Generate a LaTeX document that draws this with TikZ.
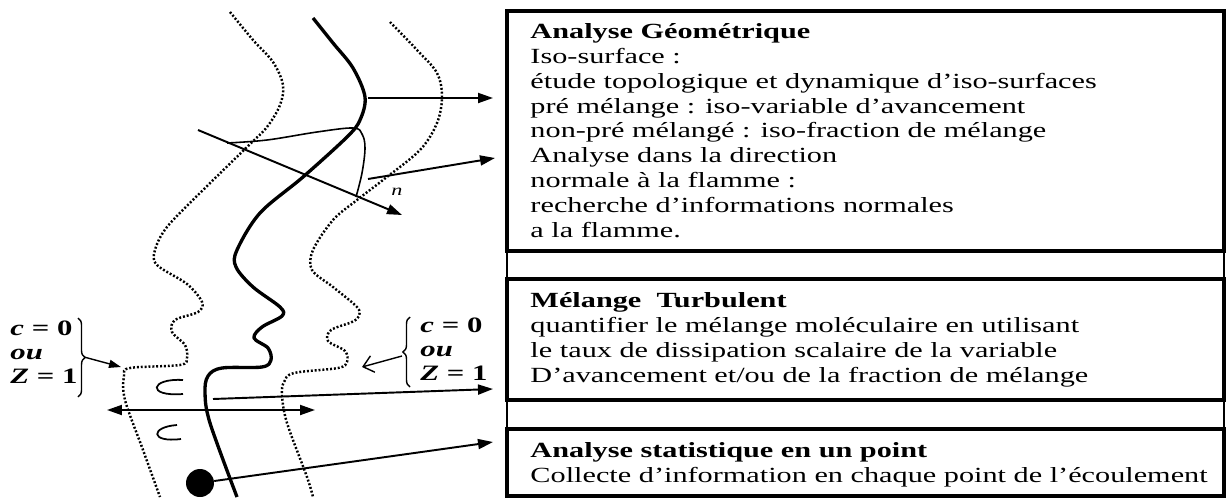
\documentclass[tikz,border=0pt]{standalone}
\usepackage{fontspec}
\setmainfont{Liberation Serif}
\usetikzlibrary{arrows.meta,positioning,decorations.pathreplacing}

\begin{document}
\begin{tikzpicture}[
  x=0.02cm, y=-0.02cm,
  >={Triangle[length=3mm,width=2mm]},
  every node/.style={font=\fontsize{12.3}{14.1}\selectfont},
  panel/.style={draw, line width=2.4pt, minimum width=14.34cm,
                inner sep=0pt, outer sep=0pt},
  gap/.style={draw, line width=0.8pt, minimum width=14.34cm,
              inner sep=0pt, outer sep=0pt},
  txt/.style={anchor=base west, inner sep=0pt, align=left, xscale=1.4},
  cond/.style={txt, font=\fontsize{12.5}{13.6}\selectfont\bfseries},
  flame/.style={line width=1.9pt, line join=round},
  iso/.style={line width=1.4pt, dash pattern=on 1.1pt off 1.1pt},
  link/.style={->, line width=1.1pt},
  brace/.style={decorate, decoration={brace, amplitude=4pt}, line width=0.8pt},
]
\useasboundingbox (0,0) rectangle (1227,497);

% boxes on the right
\node[panel, minimum height=4.8cm, anchor=north west] (geo) at (507,11) {};
\node[gap, minimum height=0.56cm, below=0pt of geo] (gap1) {};
\node[panel, minimum height=2.42cm, below=0pt of gap1] (mix) {};
\node[gap, minimum height=0.58cm, below=0pt of mix] (gap2) {};
\node[panel, minimum height=1.34cm, below=0pt of gap2] (stat) {};

% base = last line of each text
\node[txt] (geotxt) at (530,237) {\textbf{Analyse Géométrique}\\
  Iso-surface :\\
  étude topologique et dynamique d’iso-surfaces\\
  pré mélange : iso-variable d’avancement\\
  non-pré mélangé : iso-fraction de mélange\\
  Analyse dans la direction\\
  normale à la flamme :\\
  recherche d’informations normales\\
  a la flamme.};
\node[txt] (mixtxt) at (530,382) {\textbf{Mélange\ \ Turbulent}\\
  quantifier le mélange moléculaire en utilisant\\
  le taux de dissipation scalaire de la variable\\
  D’avancement et/ou de la fraction de mélange};
\node[txt] (stattxt) at (530,482) {\textbf{Analyse statistique en un point}\\
  Collecte d’information en chaque point de l’écoulement};

% iso-lines and flame front
\draw[iso] plot[smooth, tension=0.55] coordinates {(230,12) (253,40) (273,62)
  (283,85) (280,105) (267,127) (247,147) (200,193) (167,227) (155,250) (157,265)
  (187,284) (202,302) (198,312) (175,320) (172,332) (185,345) (187,358) (180,365)
  (130,368) (124,376) (125,400) (143,450) (160,497)};
\draw[flame] plot[smooth, tension=0.55] coordinates {(313,18) (333,43) (353,68)
  (365,97) (360,120) (347,137) (303,177) (260,213) (237,250) (236,267) (253,287)
  (280,307) (282,316) (262,327) (254,338) (268,348) (271,360) (262,367) (222,368)
  (208,376) (205,393) (210,423) (237,497)};
\draw[iso] plot[smooth, tension=0.55] coordinates {(390,22) (417,50) (437,73)
  (442,97) (437,123) (420,150) (383,180) (357,200) (333,220) (313,250) (312,270)
  (333,287) (357,307) (359,316) (352,322) (331,330) (328,341) (345,351) (347,362)
  (338,368) (294,373) (284,382) (282,395) (287,423) (307,477) (313,497)};
\draw[line width=0.9pt] plot[smooth, tension=0.6] coordinates {(227,143) (267,140)
  (317,132) (353,128) (362,134) (365,148) (362,173) (356,197)};

% eddies
\draw[line width=1pt] (183,380) .. controls (150,378) and (146,397) .. (183,394);
\draw[line width=1pt] (177,425) .. controls (150,427) and (150,443) .. (181,439);

\coordinate (tip) at (368,98);
\coordinate (side) at (368,179);
\coordinate (nfrom) at (198,130);
\coordinate (nto) at (402,215);
\coordinate (lft) at (107,410);
\coordinate (rgt) at (315,410);
\coordinate (front) at (213,399);
\coordinate (e1) at (493,98);
\coordinate (e2) at (495,158);
\coordinate (e3) at (493,389);
\coordinate (e4) at (493,442);
\node[circle, fill, inner sep=0pt, minimum size=0.56cm] (pt) at (200,483) {};

\draw[link] (tip) -- (e1);
\draw[link] (side) -- (e2);
\draw[link] (nfrom) -- (nto);
\node[font=\fontsize{9}{10}\selectfont\itshape, xscale=1.4] (nlab) at (397,192) {n};
\draw[link, <->] (lft) -- (rgt);
\draw[link] (front) -- (e3);
\draw[link] (pt) -- (e4);

% boundary conditions
\node[cond] (condl) at (10,383) {\textit{c} = 0\\ \textit{ou}\\ \textit{Z} = 1};
\draw[brace] (78,318) -- (78,397);
\coordinate (bl) at (84,357);
\coordinate (isol) at (121,367);
\draw[->, line width=0.8pt, >={Triangle[length=2.4mm,width=1.6mm]}] (bl) -- (isol);

\node[cond] (condr) at (420,380) {\textit{c} = 0\\ \textit{ou}\\ \textit{Z} = 1};
\draw[brace] (410,387) -- (410,317);
\coordinate (br) at (402,356);
\coordinate (isor) at (362,367);
\draw[->, line width=0.8pt, >={Straight Barb[length=2mm,width=3.4mm]}] (br) -- (isor);
\end{tikzpicture}
\end{document}
